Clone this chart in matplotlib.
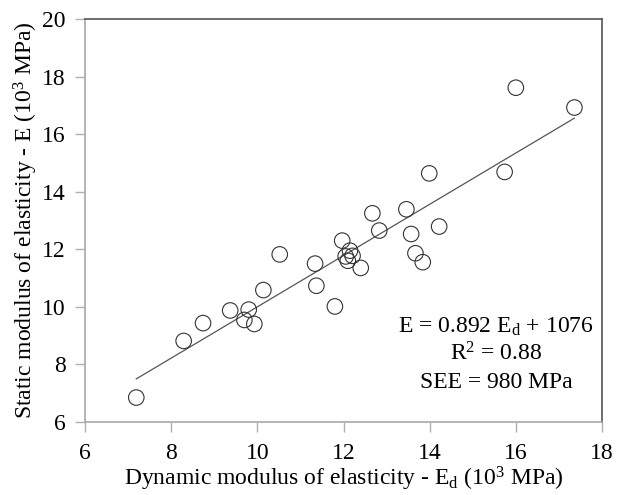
import numpy as np
import matplotlib
matplotlib.use("Agg")
import matplotlib.pyplot as plt

# dynamic modulus (10^3 MPa) vs static modulus (10^3 MPa)
ed = [7.19, 8.29, 8.74, 9.37, 9.70, 9.80, 9.93, 10.14, 10.52, 11.34, 11.37,
      11.80, 11.97, 12.05, 12.15, 12.10, 12.21, 12.40, 12.67, 12.83, 13.46,
      13.57, 13.67, 13.84, 14.22, 13.99, 15.74, 16.00, 17.36]
e = [6.84, 8.81, 9.43, 9.87, 9.54, 9.90, 9.40, 10.58, 11.82, 11.50, 10.73,
     10.01, 12.30, 11.75, 11.95, 11.60, 11.77, 11.35, 13.25, 12.65, 13.39,
     12.53, 11.86, 11.55, 12.79, 14.64, 14.69, 17.62, 16.93]

# regression from the reported equation (E in MPa -> 10^3 MPa)
slope = 0.892
intercept = 1076 / 1000.0

xticks = [6, 8, 10, 12, 14, 16, 18]
yticks = [6, 8, 10, 12, 14, 16, 18, 20]

plt.rcParams['font.family'] = ['Liberation Serif', 'DejaVu Serif']
plt.rcParams['mathtext.fontset'] = 'custom'
plt.rcParams['mathtext.rm'] = 'Liberation Serif'

fig = plt.figure(figsize=(6.22, 4.95), dpi=100)
ax = fig.add_axes([85/622, 1 - 421.7/495, 517/622, 402.4/495])

ax.scatter(ed, e, s=125, facecolors='none', edgecolors='#333333', linewidths=0.8, zorder=3)

xs = np.array([min(ed), max(ed)])
ax.plot(xs, slope * xs + intercept, color='#555555', lw=0.9, zorder=2)

ax.set_xlim(6, 18)
ax.set_ylim(6, 20)
ax.set_xticks(xticks)
ax.set_yticks(yticks)
ax.tick_params(direction='out', length=7, width=1, color='#b0b0b0',
               labelsize=17)
ax.tick_params(axis='x', pad=8)
ax.tick_params(axis='y', pad=7)

for side in ['top', 'right']:
    ax.spines[side].set_color('#555555')
for side in ['left', 'bottom']:
    ax.spines[side].set_color('#a8a8a8')
for s in ax.spines.values():
    s.set_linewidth(1.2)

ax.set_xlabel(r'Dynamic modulus of elasticity - E$\mathregular{_d}$ (10$\mathregular{^3}$ MPa)',
              fontsize=17, labelpad=1)
ax.set_ylabel(r'Static modulus of elasticity - E (10$\mathregular{^3}$ MPa)',
              fontsize=17, labelpad=1)

ax.text(0.795, 0.236, r'E = 0.892 E$\mathregular{_d}$ + 1076', transform=ax.transAxes,
        ha='center', va='center', fontsize=17)
ax.text(0.795, 0.168, r'R$\mathregular{^2}$ = 0.88', transform=ax.transAxes,
        ha='center', va='center', fontsize=17)
ax.text(0.795, 0.097, 'SEE = 980 MPa', transform=ax.transAxes,
        ha='center', va='center', fontsize=17)

fig.savefig('out.png', dpi=100)
